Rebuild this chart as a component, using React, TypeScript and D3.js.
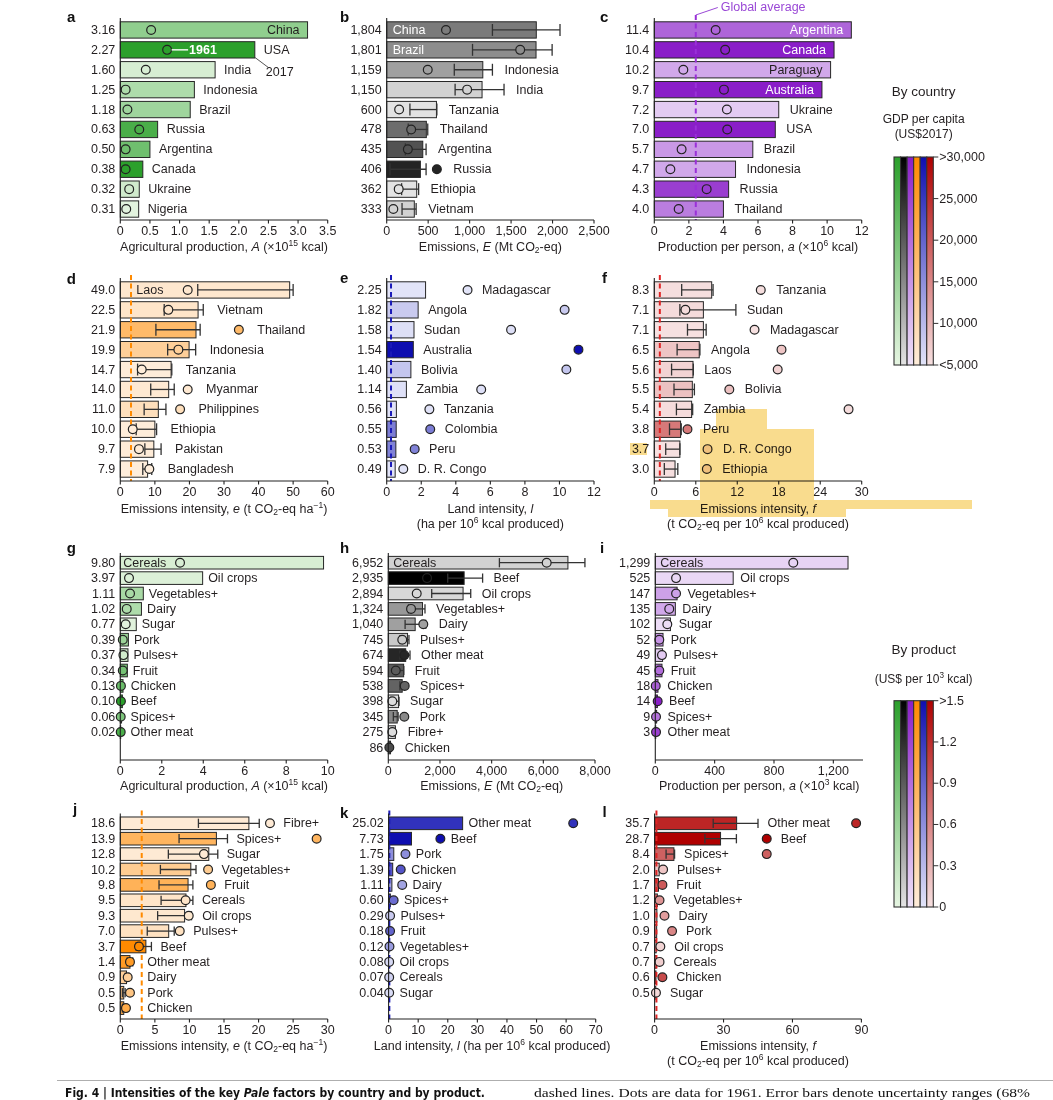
import * as d3 from "d3";
import React from "react";

const FONT = "'Liberation Sans', Arial, Helvetica, sans-serif";
const INK = "#231f20";

// colour keys read from the two legends
const gdpByCountry: Record<string, number> = {
  China: 16500, USA: 60000, India: 7000, Indonesia: 12500, Brazil: 14500, Russia: 26000,
  Argentina: 21000, Canada: 46000, Ukraine: 8000, Nigeria: 5500, Tanzania: 5200, Thailand: 18000,
  Ethiopia: 5100, Vietnam: 7000, Paraguay: 12500, Australia: 48000, Laos: 6500, Myanmar: 6000,
  Philippines: 8500, Pakistan: 5500, Bangladesh: 5000, Madagascar: 5000, Angola: 8000, Sudan: 5600,
  Bolivia: 8500, Zambia: 5500, Colombia: 17000, Peru: 16500, "D. R. Congo": 5000,
};
const priceByProduct: Record<string, number> = {
  Cereals: 0.12, "Oil crops": 0.08, "Vegetables+": 0.5, Dairy: 0.45, Sugar: 0.05, Pork: 0.6,
  "Pulses+": 0.18, Fruit: 0.9, Chicken: 1.0, Beef: 1.6, "Spices+": 0.85, "Other meat": 1.25, "Fibre+": 0.04,
};
const gdpLabels = ["<5,000", "10,000", "15,000", "20,000", "25,000", ">30,000"];
const priceLabels = ["0", "0.3", "0.6", "0.9", "1.2", ">1.5"];

// a - agricultural production by country
const aNames = ["China", "USA", "India", "Indonesia", "Brazil", "Russia", "Argentina", "Canada", "Ukraine", "Nigeria"];
const aValues = [3.16, 2.27, 1.6, 1.25, 1.18, 0.63, 0.5, 0.38, 0.32, 0.31];
const a1961 = [0.52, 0.79, 0.43, 0.09, 0.12, 0.32, 0.09, 0.09, 0.15, 0.1];

// b - emissions
const bNames = ["China", "Brazil", "Indonesia", "India", "Tanzania", "Thailand", "Argentina", "Russia", "Ethiopia", "Vietnam"];
const bValues = [1804, 1801, 1159, 1150, 600, 478, 435, 406, 362, 333];
const bLo = [1275, 1035, 815, 825, 280, 260, 225, 40, 180, 185];
const bHi = [2090, 1995, 1275, 1415, 605, 495, 475, 475, 385, 355];
const b1961 = [715, 1610, 495, 970, 150, 295, 255, 605, 145, 80];

// c - production per person
const cNames = ["Argentina", "Canada", "Paraguay", "Australia", "Ukraine", "USA", "Brazil", "Indonesia", "Russia", "Thailand"];
const cValues = [11.4, 10.4, 10.2, 9.7, 7.2, 7.0, 5.7, 4.7, 4.3, 4.0];
const c1961 = [3.55, 4.1, 1.68, 4.03, 4.2, 4.22, 1.58, 0.93, 3.03, 1.41];
const cAvg = 2.4;

// d - emissions intensity e
const dNames = ["Laos", "Vietnam", "Thailand", "Indonesia", "Tanzania", "Myanmar", "Philippines", "Ethiopia", "Pakistan", "Bangladesh"];
const dValues = [49.0, 22.5, 21.9, 19.9, 14.7, 14.0, 11.0, 10.0, 9.7, 7.9];
const dLo = [22.4, 12.7, 10.3, 13.7, 5.0, 8.8, 6.9, 4.6, 7.1, 6.5];
const dHi = [50.0, 24.0, 23.1, 21.8, 14.9, 15.6, 13.2, 10.5, 11.8, 9.1];
const d1961 = [19.5, 13.9, 34.3, 16.8, 6.2, 19.5, 17.3, 3.6, 5.4, 8.4];
const dAvg = 3.1;

// e - land intensity
const eNames = ["Madagascar", "Angola", "Sudan", "Australia", "Bolivia", "Zambia", "Tanzania", "Colombia", "Peru", "D. R. Congo"];
const eValues = [2.25, 1.82, 1.58, 1.54, 1.4, 1.14, 0.56, 0.55, 0.53, 0.49];
const e1961 = [4.68, 10.3, 7.2, 11.1, 10.4, 5.47, 2.47, 2.52, 1.62, 0.96];
const eAvg = 0.25;

// f - emissions intensity f
const fNames = ["Tanzania", "Sudan", "Madagascar", "Angola", "Laos", "Bolivia", "Zambia", "Peru", "D. R. Congo", "Ethiopia"];
const fValues = [8.3, 7.1, 7.1, 6.5, 5.6, 5.5, 5.4, 3.8, 3.7, 3.0];
const fLo = [3.96, 3.7, 4.8, 3.3, 2.5, 2.85, 3.2, 2.2, 1.65, 1.45];
const fHi = [8.5, 11.8, 7.5, 6.6, 5.65, 5.8, 5.55, 3.9, 3.7, 3.4];
const f1961 = [15.4, 4.5, 14.5, 18.4, 17.85, 10.85, 28.1, 4.8, 7.7, 7.6];
const fAvg = 0.8;

// g - agricultural production by product
const gNames = ["Cereals", "Oil crops", "Vegetables+", "Dairy", "Sugar", "Pork", "Pulses+", "Fruit", "Chicken", "Beef", "Spices+", "Other meat"];
const gValues = [9.8, 3.97, 1.11, 1.02, 0.77, 0.39, 0.37, 0.34, 0.13, 0.1, 0.06, 0.02];
const g1961 = [2.88, 0.42, 0.47, 0.31, 0.26, 0.12, 0.15, 0.12, 0.03, 0.03, 0.02, 0.02];

// h - emissions by product
const hNames = ["Cereals", "Beef", "Oil crops", "Vegetables+", "Dairy", "Pulses+", "Other meat", "Fruit", "Spices+", "Sugar", "Pork", "Fibre+", "Chicken"];
const hValues = [6952, 2935, 2894, 1324, 1040, 745, 674, 594, 538, 398, 345, 275, 86];
const hLo = [4300, 2300, 1680, 780, 650, 450, 450, 290, 450, 105, 195, 150, 50];
const hHi = [7610, 3650, 3190, 1420, 1450, 800, 840, 600, 620, 415, 380, 270, 120];
const h1961 = [6130, 1500, 1100, 880, 1355, 540, 620, 290, 635, 155, 620, 155, 40];

// i - production per person by product
const iNames = gNames;
const iValues = [1299, 525, 147, 135, 102, 52, 49, 45, 18, 14, 9, 3];
const i1961 = [930, 140, 140, 94, 81, 27, 45, 27, 3, 16, 5, 5];

// j - emissions intensity e by product
const jNames = ["Fibre+", "Spices+", "Sugar", "Vegetables+", "Fruit", "Cereals", "Oil crops", "Pulses+", "Beef", "Other meat", "Dairy", "Pork", "Chicken"];
const jValues = [18.6, 13.9, 12.8, 10.2, 9.8, 9.5, 9.3, 7.0, 3.7, 1.4, 0.9, 0.5, 0.5];
const jLo = [11.3, 8.5, 6.95, 5.8, 5.6, 5.9, 5.4, 3.9, 2.3, 1.0, 0.7, 0.3, 0.3];
const jHi = [20.1, 15.5, 14.1, 10.95, 10.5, 10.5, 10.3, 7.8, 4.5, 1.8, 1.2, 0.7, 0.7];
const j1961 = [21.65, 28.4, 12.1, 12.7, 13.1, 9.45, 9.9, 8.6, 2.7, 1.4, 1.07, 1.4, 0.82];
const jAvg = 3.1;

// k - land intensity by product
const kNames = ["Other meat", "Beef", "Pork", "Chicken", "Dairy", "Spices+", "Pulses+", "Fruit", "Vegetables+", "Oil crops", "Cereals", "Sugar"];
const kValues = [25.02, 7.73, 1.75, 1.39, 1.11, 0.6, 0.29, 0.18, 0.12, 0.08, 0.07, 0.04];
const k1961 = [62.4, 17.5, 5.7, 4.1, 4.6, 1.7, 0.5, 0.5, 0.3, 0.2, 0.2, 0.2];
const kAvg = 0.25;

// l - emissions intensity f by product
const lNames = ["Other meat", "Beef", "Spices+", "Pulses+", "Fruit", "Vegetables+", "Dairy", "Pork", "Oil crops", "Cereals", "Chicken", "Sugar"];
const lValues = [35.7, 28.7, 8.4, 2.0, 1.7, 1.2, 1.0, 0.9, 0.7, 0.7, 0.6, 0.5];
const lLo = [25.5, 21.9, 5.0, null, null, null, null, null, null, null, null, null];
const lHi = [45, 35.6, 8.7, null, null, null, null, null, null, null, null, null];
const l1961 = [87.7, 48.8, 48.8, 3.7, 3.4, 2.15, 4.3, 7.6, 2.5, 2.15, 3.4, 0.6];
const lAvg = 0.8;

type Ramp = [string, string];
const RAMPS: Record<string, Ramp> = {
  green: ["#e6f5e2", "#2ca02c"],
  grey: ["#e4e4e4", "#000000"],
  purple: ["#efe3f8", "#8a1ec8"],
  orange: ["#feeddb", "#ff8a00"],
  blue: ["#e2e4f8", "#0e0eb0"],
  red: ["#f6e0e0", "#b00000"],
};
const rampOrder = ["green", "grey", "purple", "orange", "blue", "red"];

interface RowCfg { yTop: number; rowH: number; nRows: number; axisY: number; titleDy: number }
const ROW1: RowCfg = { yTop: 20, rowH: 19.9, nRows: 10, axisY: 220, titleDy: 27 };
const ROW2: RowCfg = { yTop: 280, rowH: 19.9, nRows: 10, axisY: 481, titleDy: 28 };
const ROW3: RowCfg = { yTop: 555, rowH: 15.4, nRows: 13, axisY: 760, titleDy: 26 };
const ROW4: RowCfg = { yTop: 815.6, rowH: 15.4, nRows: 13, axisY: 1019, titleDy: 27 };

type Scale = d3.ScaleLinear<number, number>;

interface PanelCfg {
  letter: string; lx: number; ly: number;
  names: string[]; values: number[]; dots: number[];
  lo?: (number | null)[]; hi?: (number | null)[];
  byProduct?: boolean; ramp: Ramp;
  x0: number; x1: number; max: number; ticks: number[];
  tickFmt: (v: number) => string; valFmt: (v: number) => string;
  row: RowCfg;
  avg?: number; avgColour?: string;
  inside?: Record<string, "left" | "right">; insidePad?: number;
  gap?: number; minLabel?: number;
  title: string[];
  extra?: (x: Scale, cy: (i: number) => number) => React.ReactNode;
}

// tiny markup: *italic*, ^{sup}, _{sub}
function rich(s: string) {
  const parts = s.split(/(\*[^*]+\*|\^\{[^}]+\}|_\{[^}]+\})/).filter(Boolean);
  let shift = 0;
  return parts.map((t, i) => {
    if (t.startsWith("^{") || t.startsWith("_{")) {
      const d = t[0] === "^" ? -4 : 3;
      const node = (
        <tspan key={i} dy={d - shift} fontSize="0.68em">{t.slice(2, -1)}</tspan>
      );
      shift = d;
      return node;
    }
    const it = t.startsWith("*");
    const node = (
      <tspan key={i} dy={-shift} fontStyle={it ? "italic" : undefined}>{it ? t.slice(1, -1) : t}</tspan>
    );
    shift = 0;
    return node;
  });
}

function Panel({ c }: { c: PanelCfg }) {
  const x = d3.scaleLinear().domain([0, c.max]).range([c.x0, c.x1]);
  const { yTop, rowH, nRows, axisY, titleDy } = c.row;
  const band = d3.scaleBand<number>().domain(d3.range(nRows)).range([yTop, yTop + nRows * rowH]);
  const cy = (i: number) => (band(i) ?? 0) + band.bandwidth() / 2;
  const bh = band.bandwidth() * 0.82;
  const capH = band.bandwidth() * 0.6;
  const r = 4.4;
  const colour = d3
    .scaleLinear<string>()
    .domain(c.byProduct ? [0, 1.5] : [5000, 30000])
    .range(c.ramp)
    .interpolate(d3.interpolateRgb)
    .clamp(true);
  const fillOf = (n: string) => colour(c.byProduct ? priceByProduct[n] : gdpByCountry[n]);
  const gap = c.gap ?? 9;

  const labelX = (i: number) => {
    let a = x(c.values[i]);
    const h = c.hi?.[i];
    if (h != null) a = Math.max(a, x(h));
    const d = x(c.dots[i]);
    if (d + r > a && d - a < 50) a = d + r;
    return Math.max(a + gap, c.x0 + (c.minLabel ?? 0));
  };

  return (
    <g fontFamily={FONT}>
      <text x={c.lx} y={c.ly} fontSize={15} fontWeight="bold" fill="#111">{c.letter}</text>
      {c.names.map((n, i) => (
        <rect key={"b" + n} x={c.x0} y={cy(i) - bh / 2} width={x(c.values[i]) - c.x0} height={bh}
          fill={fillOf(n)} stroke="#262626" strokeWidth={1} />
      ))}
      {c.avg != null && (
        <line x1={x(c.avg)} x2={x(c.avg)} y1={yTop - 5} y2={axisY} stroke={c.avgColour}
          strokeWidth={2} strokeDasharray="5,3.5" />
      )}
      {c.names.map((n, i) => {
        const lo = c.lo?.[i];
        const hi = c.hi?.[i];
        if (lo == null || hi == null) return null;
        const y = cy(i);
        return (
          <g key={"e" + n} stroke="#333" strokeWidth={1.3}>
            <line x1={x(lo)} x2={x(hi)} y1={y} y2={y} />
            <line x1={x(lo)} x2={x(lo)} y1={y - capH / 2} y2={y + capH / 2} />
            <line x1={x(hi)} x2={x(hi)} y1={y - capH / 2} y2={y + capH / 2} />
          </g>
        );
      })}
      {c.names.map((n, i) => (
        <circle key={"d" + n} cx={x(c.dots[i])} cy={cy(i)} r={r} fill={fillOf(n)} stroke="#222" strokeWidth={1.2} />
      ))}
      {c.names.map((n, i) => {
        const mode = c.inside?.[n];
        const fill = fillOf(n);
        if (mode) {
          const light = d3.hsl(fill).l < 0.64;
          return (
            <text key={"l" + n} x={mode === "left" ? c.x0 + (c.insidePad ?? 5) : x(c.values[i]) - 8} y={cy(i)}
              dominantBaseline="central" textAnchor={mode === "left" ? "start" : "end"} fontSize={12.5}
              fill={light ? "#fff" : INK}>{n}</text>
          );
        }
        return (
          <text key={"l" + n} x={labelX(i)} y={cy(i)} dominantBaseline="central" fontSize={12.5} fill={INK}>{n}</text>
        );
      })}
      {c.names.map((n, i) => (
        <text key={"v" + n} x={c.x0 - 5} y={cy(i)} dominantBaseline="central" textAnchor="end" fontSize={12.5} fill={INK}>
          {c.valFmt(c.values[i])}
        </text>
      ))}
      {c.extra && c.extra(x, cy)}
      <g stroke="#222" strokeWidth={1.1}>
        <line x1={c.x0} x2={c.x0} y1={yTop - 2} y2={axisY} />
        <line x1={c.x0} x2={x(c.max)} y1={axisY} y2={axisY} />
        {c.ticks.map((t) => (
          <line key={t} x1={x(t)} x2={x(t)} y1={axisY} y2={axisY + 3.5} />
        ))}
      </g>
      {c.ticks.map((t) => (
        <text key={"t" + t} x={x(t)} y={axisY + 11} dominantBaseline="central" textAnchor="middle" fontSize={12.5} fill={INK}>
          {c.tickFmt(t)}
        </text>
      ))}
      {c.title.map((line, k) => (
        <text key={"ti" + k} x={(c.x0 + x(c.max)) / 2} y={axisY + titleDy + k * 14.5} dominantBaseline="central"
          textAnchor="middle" fontSize={12.5} fill={INK}>
          {rich(line)}
        </text>
      ))}
    </g>
  );
}

function ColourKey({ id, x, y0, y1, title, sub, labels }: {
  id: string; x: number; y0: number; y1: number; title: { t: string; y: number }; sub: { t: string; y: number }[]; labels: string[];
}) {
  const w = 39.3;
  const cw = w / rampOrder.length;
  const ty = d3.scaleLinear().domain([0, labels.length - 1]).range([y1, y0]);
  const cx = x + w / 2 + 10;
  return (
    <g fontFamily={FONT} fill={INK}>
      <defs>
        {rampOrder.map((k) => (
          <linearGradient key={k} id={id + k} x1="0" y1="1" x2="0" y2="0">
            <stop offset="0" stopColor={RAMPS[k][0]} />
            <stop offset="1" stopColor={RAMPS[k][1]} />
          </linearGradient>
        ))}
      </defs>
      <text x={cx} y={title.y} textAnchor="middle" dominantBaseline="central" fontSize={13.5}>{title.t}</text>
      {sub.map((s) => (
        <text key={s.t} x={cx} y={s.y} textAnchor="middle" dominantBaseline="central" fontSize={12}>{rich(s.t)}</text>
      ))}
      {rampOrder.map((k, i) => (
        <rect key={k} x={x + i * cw} y={y0} width={cw} height={y1 - y0} fill={`url(#${id + k})`} stroke="#333" strokeWidth={1.1} />
      ))}
      {labels.map((l, i) => (
        <g key={l}>
          <line x1={x + w} x2={x + w + 5} y1={ty(i)} y2={ty(i)} stroke="#333" />
          <text x={x + w + 6} y={ty(i)} dominantBaseline="central" fontSize={12.5}>{l}</text>
        </g>
      ))}
    </g>
  );
}

const f1 = d3.format(".1f");
const f2 = d3.format(".2f");
const fc = d3.format(",");
const plain = (v: number) => String(v);

const annotateA = (x: Scale, cy: (i: number) => number) => {
  const i = aNames.indexOf("USA");
  const y = cy(i);
  const dx = x(a1961[i]);
  const end = x(aValues[i]);
  return (
    <g fontFamily={FONT}>
      <line x1={dx + 4.5} x2={dx + 21} y1={y} y2={y} stroke="#fff" strokeWidth={1.4} />
      <text x={dx + 22} y={y} dominantBaseline="central" fill="#fff" fontWeight="bold" fontSize={12.5}>1961</text>
      <line x1={end} y1={y + 7.5} x2={end + 14} y2={y + 18} stroke="#555" strokeWidth={1} />
      <text x={end + 11} y={y + 22} dominantBaseline="central" fontSize={12.5} fill={INK}>2017</text>
    </g>
  );
};

const annotateC = (x: Scale) => {
  const xa = x(cAvg);
  return (
    <g fontFamily={FONT}>
      <line x1={xa} y1={15} x2={xa + 22} y2={7.5} stroke="#9a48d6" strokeWidth={1} />
      <text x={xa + 25} y={7} dominantBaseline="central" fontSize={12.5} fill="#9a48d6">Global average</text>
    </g>
  );
};

const panels: PanelCfg[] = [
  {
    letter: "a", lx: 67, ly: 21.5, names: aNames, values: aValues, dots: a1961, ramp: RAMPS.green,
    x0: 120.3, x1: 327.7, max: 3.5, ticks: d3.range(0, 3.51, 0.5), tickFmt: (v) => (v === 0 ? "0" : f1(v)), valFmt: f2,
    row: ROW1, inside: { China: "right" }, gap: 9, title: ["Agricultural production, *A* (×10^{15} kcal)"], extra: annotateA,
  },
  {
    letter: "b", lx: 340, ly: 21.5, names: bNames, values: bValues, dots: b1961, lo: bLo, hi: bHi, ramp: RAMPS.grey,
    x0: 386.7, x1: 594, max: 2500, ticks: d3.range(0, 2501, 500), tickFmt: fc, valFmt: fc,
    row: ROW1, inside: { China: "left", Brazil: "left" }, insidePad: 6, gap: 12, title: ["Emissions, *E* (Mt CO_{2}-eq)"],
  },
  {
    letter: "c", lx: 600, ly: 21.5, names: cNames, values: cValues, dots: c1961, ramp: RAMPS.purple,
    x0: 654.3, x1: 861.7, max: 12, ticks: d3.range(0, 13, 2), tickFmt: plain, valFmt: f1,
    row: ROW1, avg: cAvg, avgColour: "#9a30d8",
    inside: { Argentina: "right", Canada: "right", Paraguay: "right", Australia: "right" }, gap: 11,
    title: ["Production per person, *a* (×10^{6} kcal)"], extra: (x) => annotateC(x),
  },
  {
    letter: "d", lx: 66.7, ly: 283.5, names: dNames, values: dValues, dots: d1961, lo: dLo, hi: dHi, ramp: RAMPS.orange,
    x0: 120.3, x1: 327.7, max: 60, ticks: d3.range(0, 61, 10), tickFmt: plain, valFmt: f1,
    row: ROW2, avg: dAvg, avgColour: "#ff8a00", inside: { Laos: "left" }, insidePad: 16, gap: 14,
    title: ["Emissions intensity, *e* (t CO_{2}-eq ha^{−1})"],
  },
  {
    letter: "e", lx: 340, ly: 283, names: eNames, values: eValues, dots: e1961, ramp: RAMPS.blue,
    x0: 386.7, x1: 594, max: 12, ticks: d3.range(0, 13, 2), tickFmt: plain, valFmt: f2,
    row: ROW2, avg: eAvg, avgColour: "#1a1ab8", gap: 10,
    title: ["Land intensity, *l*", "(ha per 10^{6} kcal produced)"],
  },
  {
    letter: "f", lx: 602, ly: 283, names: fNames, values: fValues, dots: f1961, lo: fLo, hi: fHi, ramp: RAMPS.red,
    x0: 654.3, x1: 861.7, max: 30, ticks: d3.range(0, 31, 6), tickFmt: plain, valFmt: f1,
    row: ROW2, avg: fAvg, avgColour: "#e02424", gap: 11,
    title: ["Emissions intensity, *f*", "(t CO_{2}-eq per 10^{6} kcal produced)"],
  },
  {
    letter: "g", lx: 66.7, ly: 553, names: gNames, values: gValues, dots: g1961, byProduct: true, ramp: RAMPS.green,
    x0: 120.3, x1: 327.7, max: 10, ticks: d3.range(0, 11, 2), tickFmt: plain, valFmt: f2,
    row: ROW3, inside: { Cereals: "left" }, insidePad: 3, gap: 5.5,
    title: ["Agricultural production, *A* (×10^{15} kcal)"],
  },
  {
    letter: "h", lx: 340, ly: 552.7, names: hNames, values: hValues, dots: h1961, lo: hLo, hi: hHi, byProduct: true, ramp: RAMPS.grey,
    x0: 388.3, x1: 595, max: 8000, ticks: d3.range(0, 8001, 2000), tickFmt: fc, valFmt: fc,
    row: ROW3, inside: { Cereals: "left" }, gap: 11, title: ["Emissions, *E* (Mt CO_{2}-eq)"],
  },
  {
    letter: "i", lx: 600, ly: 552.7, names: iNames, values: iValues, dots: i1961, byProduct: true, ramp: RAMPS.purple,
    x0: 655.3, x1: 863, max: 1400, ticks: [0, 400, 800, 1200], tickFmt: fc, valFmt: fc,
    row: ROW3, inside: { Cereals: "left" }, gap: 7, minLabel: 12,
    title: ["Production per person, *a* (×10^{3} kcal)"],
  },
  {
    letter: "j", lx: 73, ly: 814, names: jNames, values: jValues, dots: j1961, lo: jLo, hi: jHi, byProduct: true, ramp: RAMPS.orange,
    x0: 120.3, x1: 327.7, max: 30, ticks: d3.range(0, 31, 5), tickFmt: plain, valFmt: f1,
    row: ROW4, avg: jAvg, avgColour: "#ff8a00", gap: 9, minLabel: 27,
    title: ["Emissions intensity, *e* (t CO_{2}-eq ha^{−1})"],
  },
  {
    letter: "k", lx: 340, ly: 818, names: kNames, values: kValues, dots: k1961, byProduct: true, ramp: RAMPS.blue,
    x0: 388.6, x1: 595.7, max: 70, ticks: d3.range(0, 71, 10), tickFmt: plain, valFmt: f2,
    row: ROW4, avg: kAvg, avgColour: "#1a1ab8", gap: 6, minLabel: 10,
    title: ["Land intensity, *l* (ha per 10^{6} kcal produced)"],
  },
  {
    letter: "l", lx: 602.5, ly: 816.7, names: lNames, values: lValues, dots: l1961, lo: lLo, hi: lHi, byProduct: true, ramp: RAMPS.red,
    x0: 654.6, x1: 861.4, max: 90, ticks: d3.range(0, 91, 30), tickFmt: plain, valFmt: f1,
    row: ROW4, avg: lAvg, avgColour: "#e02424", gap: 9.5,
    title: ["Emissions intensity, *f*", "(t CO_{2}-eq per 10^{6} kcal produced)"],
  },
];

// yellow text-selection highlight visible on the page scan (panel f)
const highlight: [number, number, number, number][] = [
  [716, 409, 51, 20],
  [700, 429, 114, 71],
  [650, 500, 322, 9],
  [668, 509, 178, 8],
  [630, 443, 17, 12],
];

const CAP_BOLD = "'Liberation Sans Narrow', 'DejaVu Sans Condensed', sans-serif";

export default function App() {
  return (
    <svg width={1053} height={1100} style={{ position: "absolute", left: 0, top: 0, background: "#fff" }}>
      <rect width={1053} height={1100} fill="#fff" />
      {panels.map((p) => (
        <Panel key={p.letter} c={p} />
      ))}
      <ColourKey id="gk" x={894} y0={157} y1={365} title={{ t: "By country", y: 91 }}
        sub={[{ t: "GDP per capita", y: 119 }, { t: "(US$2017)", y: 133.5 }]} labels={gdpLabels} />
      <ColourKey id="pk" x={894} y0={700.7} y1={907} title={{ t: "By product", y: 649.5 }}
        sub={[{ t: "(US$ per 10^{3} kcal)", y: 678.5 }]} labels={priceLabels} />
      {highlight.map(([x, y, w, h], i) => (
        <rect key={i} x={x} y={y} width={w} height={h} fill="#f9dc8e" style={{ mixBlendMode: "multiply" }} />
      ))}
      <line x1={57} x2={1053} y1={1080.5} y2={1080.5} stroke="#999" strokeWidth={0.8} />
      <text x={65} y={1097} fontFamily={CAP_BOLD} fontWeight="bold" fontSize={12} fill="#111">
        Fig. 4 | Intensities of the key <tspan fontStyle="italic">Pale</tspan> factors by country and by product.
      </text>
      <text x={534} y={1097} fontFamily="'Liberation Serif', serif" fontSize={13.5} fill="#111" textLength={496}
        lengthAdjust="spacingAndGlyphs">
        dashed lines. Dots are data for 1961. Error bars denote uncertainty ranges (68%
      </text>
    </svg>
  );
}
